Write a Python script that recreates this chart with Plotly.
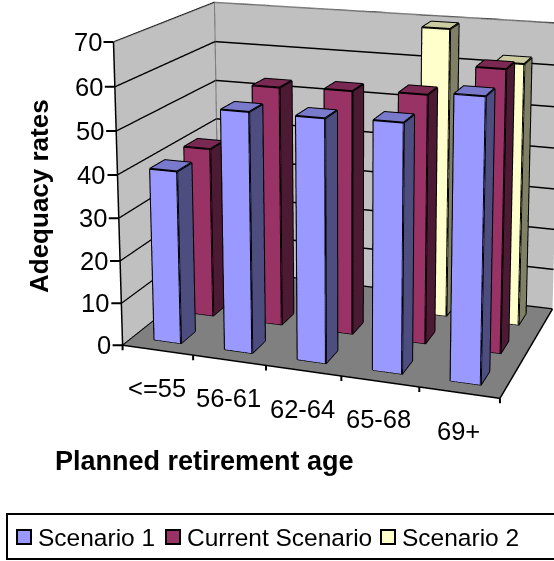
import plotly.graph_objects as go

categories = ["<=55", "56-61", "62-64", "65-68", "69+"]
series_names = ["Scenario 1", "Current Scenario", "Scenario 2"]
scenario_1 = [40.5, 55.5, 55.5, 56, 63]
current_scenario = [41, 57, 57.5, 58, 65]
scenario_2 = [None, None, None, 69.5, 62.5]
z_ticks = [0, 10, 20, 30, 40, 50, 60, 70]

series_values = [scenario_1, current_scenario, scenario_2]
front_colors = ["#9999FF", "#993366", "#FFFFCC"]
side_colors = ["#4D4D80", "#4D1A33", "#808066"]
top_colors = ["#7A7ACC", "#7A2952", "#CCCCA3"]

BAR_W = 0.38
BAR_D = 0.42
# The drawing surface is larger than the page so the 45 degree lens gives a
# long, shallow perspective; the page shows the part of it starting at TOP.
W, H = 700, 1272
TOP = 600
FONT = "Liberation Sans"


def add_bar(fig, cat, ser, value):
    """One 3D column: a six-sided mesh plus its black outline."""
    x0, x1 = cat + 0.5 - BAR_W / 2, cat + 0.5 + BAR_W / 2
    y0, y1 = ser + 0.5 - BAR_D / 2, ser + 0.5 + BAR_D / 2
    xs = [x0, x1, x1, x0, x0, x1, x1, x0]
    ys = [y0, y0, y1, y1, y0, y0, y1, y1]
    zs = [0, 0, 0, 0, value, value, value, value]
    i = [0, 0, 1, 1, 4, 4, 3, 3, 0, 0, 2, 2]
    j = [1, 5, 2, 6, 5, 6, 2, 6, 3, 7, 1, 0]
    k = [5, 4, 6, 5, 6, 7, 6, 7, 7, 4, 0, 3]
    colors = [front_colors[ser]] * 2 + [side_colors[ser]] * 2 + [top_colors[ser]] * 2 \
        + [side_colors[ser]] * 6
    fig.add_trace(go.Mesh3d(
        x=xs, y=ys, z=zs, i=i, j=j, k=k, facecolor=colors, flatshading=True,
        lighting=dict(ambient=1, diffuse=0, specular=0, roughness=1, fresnel=0),
        hoverinfo="skip", showscale=False,
    ))
    edges = [0, 1, 2, 3, 0, 4, 5, 6, 7, 4, None, 1, 5, None, 2, 6, None, 3, 7]
    fig.add_trace(go.Scatter3d(
        x=[None if e is None else xs[e] for e in edges],
        y=[None if e is None else ys[e] for e in edges],
        z=[None if e is None else zs[e] for e in edges],
        mode="lines", line=dict(color="black", width=4), hoverinfo="skip",
        showlegend=False,
    ))


def add_frame_line(fig, xs, ys, zs, color, width):
    fig.add_trace(go.Scatter3d(x=xs, y=ys, z=zs, mode="lines",
                               line=dict(color=color, width=width),
                               hoverinfo="skip", showlegend=False))


fig = go.Figure()
zmax = z_ticks[-1]
xmax = len(categories)
ymax = len(series_names)

# Wall outlines in grey, axis edges in black
add_frame_line(fig, [0, 0, xmax], [0, ymax, ymax], [zmax] * 3, "#808080", 3)
add_frame_line(fig, [0, 0], [ymax, ymax], [0, zmax], "#808080", 3)
add_frame_line(fig, [0, 0, xmax, xmax], [0, 0, 0, ymax], [zmax, 0, 0, 0], "black", 3)

for ser in range(3):
    for cat, value in enumerate(series_values[ser]):
        if value is not None:
            add_bar(fig, cat, ser, value)

axis_common = dict(showspikes=False, zeroline=False, title="", showline=False, showgrid=False)

# Value labels carry their own short tick; the arrow runs from the axis to the text.
scene_labels = [
    dict(x=0, y=0, z=t, text=str(t), showarrow=True, arrowhead=0, arrowwidth=2,
         arrowcolor="black", ax=-10, ay=0, standoff=0, xanchor="right", yanchor="middle",
         font=dict(size=25.5, family=FONT, color="black"))
    for t in z_ticks
] + [
    dict(x=c + 0.5, y=0, z=0, text=name, showarrow=False, yshift=-38, xshift=-1,
         font=dict(size=25.5, family=FONT, color="black"))
    for c, name in enumerate(categories)
] + [
    dict(x=c, y=0, z=0, text=" ", showarrow=True, arrowhead=0, arrowwidth=2,
         arrowcolor="black", ax=0, ay=7, standoff=0, font=dict(size=1))
    for c in range(xmax + 1)
]


def px(x):
    return x / W


def py(y):
    return 1 - (y + TOP) / H


def paper_rect(x0, y0, x1, y1, fill, width):
    return dict(type="rect", xref="paper", yref="paper", x0=px(x0), x1=px(x1),
                y0=py(y0), y1=py(y1), fillcolor=fill, line=dict(color="black", width=width))


legend_swatches = [17, 166, 381]
legend_text_x = [36, 185, 400]

paper_labels = [
    dict(x=px(39), y=py(196), xref="paper", yref="paper", text="<b>Adequacy rates</b>",
         textangle=-90, showarrow=False, xanchor="center", yanchor="middle", font=dict(size=26)),
    dict(x=px(204), y=py(461), xref="paper", yref="paper", text="<b>Planned retirement age</b>",
         showarrow=False, xanchor="center", yanchor="middle", font=dict(size=27)),
] + [
    dict(x=px(x), y=py(537), xref="paper", yref="paper", text=name, xanchor="left",
         yanchor="middle", showarrow=False, font=dict(size=24.5))
    for x, name in zip(legend_text_x, series_names)
]

fig.update_layout(
    width=W, height=H, margin=dict(l=0, r=0, t=0, b=0),
    paper_bgcolor="white", showlegend=False,
    font=dict(family=FONT, color="black"),
    shapes=[paper_rect(7, 514, 570, 559, "white", 2)] + [
        paper_rect(x, 530, x + 14, 544, color, 2)
        for x, color in zip(legend_swatches, front_colors)
    ],
    annotations=paper_labels,
    scene=dict(
        domain=dict(x=[0, 1], y=[0, 1]),
        aspectmode="manual",
        aspectratio=dict(x=1.25, y=0.77, z=1.0),
        camera=dict(
            up=dict(x=0, y=0, z=1),
            eye=dict(x=1.596, y=-4.576, z=1.430),
            center=dict(x=-0.0113, y=0.0927, z=0.4702),
        ),
        xaxis=dict(range=[0, xmax], showbackground=True, backgroundcolor="#C0C0C0",
                   tickvals=[], showticklabels=False, **axis_common),
        yaxis=dict(range=[0, ymax], showbackground=True, backgroundcolor="#C0C0C0",
                   tickvals=[], showticklabels=False, **axis_common),
        zaxis=dict(range=[0, zmax], showbackground=True, backgroundcolor="#808080",
                   tickvals=z_ticks, showticklabels=False,
                   **{**axis_common, "showgrid": True}, gridcolor="black", gridwidth=3),
        annotations=scene_labels,
    ),
)

fig.write_html(
    "out.html",
    post_script=(
        "document.documentElement.style.overflow='hidden';"
        "document.body.style.overflow='hidden';"
        f"document.getElementById('{{plot_id}}').style.marginTop='-{TOP}px';"
    ),
)
